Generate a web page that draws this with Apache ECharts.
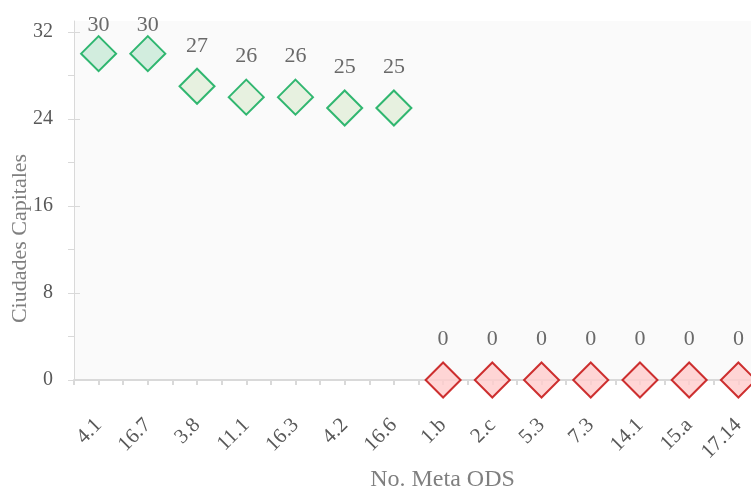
<!DOCTYPE html>
<html>
<head>
<meta charset="utf-8">
<script src="https://cdn.jsdelivr.net/npm/echarts@6.0.0/dist/echarts.min.js"></script>
<style>
  html, body { margin: 0; padding: 0; background: #ffffff; }
  #chart { width: 751px; height: 492px; }
</style>
</head>
<body>
<div id="chart"></div>
<script>
// Metas ODS y número de ciudades capitales que las reportan
const metas = ['4.1', '16.7', '3.8', '11.1', '16.3', '4.2', '16.6',
               '1.b', '2.c', '5.3', '7.3', '14.1', '15.a', '17.14'];
const ciudades = [30, 30, 27, 26, 26, 25, 25, 0, 0, 0, 0, 0, 0, 0];
const yTicks = [0, 8, 16, 24, 32];
const yMinorTicks = [0, 4, 8, 12, 16, 20, 24, 28, 32];

const FONT = "'Liberation Serif', 'DejaVu Serif', serif";

function markerStyle(v) {
  if (v <= 0) return { color: '#ffcccc', borderColor: '#c00000', borderWidth: 2 };
  if (v >= 30) return { color: '#c8ead7', borderColor: '#00a650', borderWidth: 2 };
  return { color: '#e2efda', borderColor: '#00a650', borderWidth: 2 };
}

const points = ciudades.map(function (v) {
  return {
    value: v,
    itemStyle: markerStyle(v),
    // labels near the top edge sit closer to their marker
    label: { distance: v >= 30 ? -1 : 11 }
  };
});

const chart = echarts.init(document.getElementById('chart'), null, { renderer: 'canvas' });

chart.setOption({
  backgroundColor: '#ffffff',
  animation: false,
  grid: {
    left: 74, right: -12, top: 21, bottom: 112,
    outerBoundsMode: 'none',
    containLabel: false,
    show: true, backgroundColor: '#fafafa', borderWidth: 0
  },
  xAxis: [
    {
      type: 'category',
      data: metas,
      boundaryGap: true,
      name: 'No. Meta ODS',
      nameLocation: 'middle',
      nameGap: 88,
      nameMoveOverlap: false,
      nameTextStyle: { fontFamily: FONT, fontSize: 24, color: '#7f7f7f', padding: [0, 0, 0, 48] },
      axisLine: { show: true, lineStyle: { color: '#d9d9d9', width: 2 } },
      axisTick: { show: false },
      axisLabel: {
        rotate: 45, margin: 42, interval: 0,
        fontFamily: FONT, fontSize: 21, color: '#595959'
      },
      splitLine: { show: false }
    },
    {
      // half-category tick marks along the bottom axis
      type: 'value',
      position: 'bottom',
      min: 0, max: metas.length, interval: 0.5,
      axisLine: { show: false },
      axisTick: { show: true, length: 5, lineStyle: { color: '#d9d9d9', width: 2 } },
      axisLabel: { show: false },
      splitLine: { show: false }
    }
  ],
  yAxis: [
    {
      type: 'value',
      min: 0, max: 33,
      name: 'Ciudades Capitales',
      nameLocation: 'middle',
      nameGap: 43,
      nameMoveOverlap: false,
      nameTextStyle: { fontFamily: FONT, fontSize: 22, color: '#7f7f7f', padding: [0, 76, 0, 0] },
      axisLine: { show: true, lineStyle: { color: '#d9d9d9', width: 1 } },
      axisTick: { show: true, length: 6, customValues: yMinorTicks, lineStyle: { color: '#d9d9d9' } },
      axisLabel: {
        customValues: yTicks, margin: 21,
        fontFamily: FONT, fontSize: 20, color: '#595959'
      },
      splitLine: { show: false }
    },
    {
      // inner half of the major tick marks
      type: 'value',
      position: 'left',
      min: 0, max: 33,
      axisLine: { show: false },
      axisTick: { show: true, inside: true, length: 6, customValues: yTicks, lineStyle: { color: '#d9d9d9' } },
      axisLabel: { show: false },
      splitLine: { show: false }
    }
  ],
  series: [
    {
      type: 'scatter',
      xAxisIndex: 0,
      yAxisIndex: 0,
      symbol: 'diamond',
      symbolSize: 35,
      data: points,
      label: {
        show: true,
        position: 'top',
        fontFamily: FONT,
        fontSize: 22,
        color: '#454545'
      }
    }
  ]
});
</script>
</body>
</html>
